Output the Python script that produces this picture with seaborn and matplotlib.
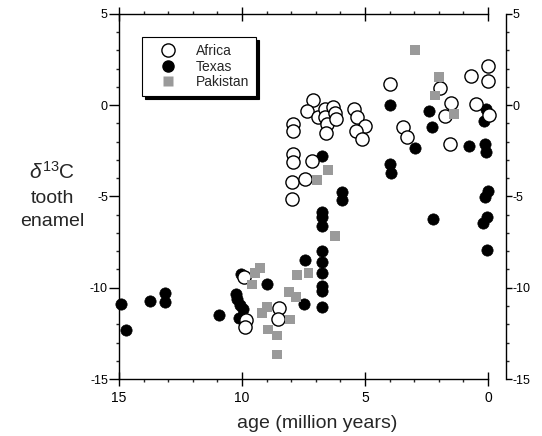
import matplotlib
matplotlib.use("Agg")
import matplotlib.pyplot as plt
import seaborn as sns
import pandas as pd
from matplotlib.ticker import MultipleLocator
from matplotlib.lines import Line2D

# ---- data (age in Ma, delta13C) ----
africa_age = [7.92, 7.92, 7.92, 7.92, 7.95, 7.95, 7.44, 7.17,
              7.12, 7.35, 6.90, 6.63, 6.63, 6.56, 6.59, 6.29, 6.22, 6.18,
              5.45, 5.34, 5.00, 5.37, 5.13,
              3.98, 3.45, 3.28, 1.54, 1.52, 1.76, 1.95, 0.71, 0.00, 0.00, 0.47, -0.05,
              9.93, 9.85, 9.88, 8.50, 8.52]
africa_d13c = [-1.03, -1.39, -2.67, -3.13, -4.23, -5.15, -4.05, -3.04,
               0.27, -0.29, -0.66, -0.20, -0.66, -1.03, -1.51, -0.11, -0.40, -0.75,
               -0.20, -0.66, -1.15, -1.39, -1.85,
               1.14, -1.21, -1.74, -2.12, 0.13, -0.60, 0.95, 1.63, 2.13, 1.33, 0.09, -0.53,
               -9.40, -11.74, -12.17, -11.10, -11.70]

texas_age = [14.90, 14.72, 13.74, 13.13, 13.13, 10.92, 10.25, 10.21, 10.08, 9.95, 10.11, 10.05,
             8.97, 7.44, 7.48,
             6.74, 6.74, 6.74, 6.74, 6.74, 6.74, 6.74, 6.74, 6.74,
             5.95, 5.95, 2.25, 0.00, 0.12, 0.05, 0.22, 0.05,
             6.76, 3.98, 3.98, 3.96, 2.97, 2.39, 2.29, 0.76, 0.12, 0.08, 0.08, 0.16]
texas_d13c = [-10.90, -12.30, -10.75, -10.27, -10.77, -11.47, -10.33, -10.64, -10.92, -11.15, -11.65, -9.27,
              -9.82, -8.48, -10.87,
              -5.86, -6.10, -6.61, -8.01, -8.58, -9.20, -9.91, -10.18, -11.04,
              -4.78, -5.18, -6.21, -4.69, -5.05, -6.15, -6.43, -7.93,
              -2.80, 0.02, -3.22, -3.72, -2.35, -0.29, -1.21, -2.21, -2.12, -2.58, -0.20, -0.84]

pakistan_age = [9.27, 9.47, 9.61, 9.20, 9.00, 8.93, 8.57, 8.57, 8.05, 8.08, 7.80, 7.77, 7.30,
                6.22, 6.49, 6.96, 2.97, 1.98, 2.15, 1.37]
pakistan_d13c = [-8.90, -9.18, -9.82, -11.37, -11.04, -12.29, -12.62, -13.66, -11.74, -10.24, -10.51,
                 -9.30, -9.20, -7.16, -3.53, -4.10, 3.04, 1.54, 0.53, -0.48]

regions = ["Africa", "Texas", "Pakistan"]
x_ticks = [15, 10, 5, 0]
y_ticks = [5, 0, -5, -10, -15]

df = pd.concat([
    pd.DataFrame({"age": africa_age, "d13c": africa_d13c, "region": "Africa"}),
    pd.DataFrame({"age": texas_age, "d13c": texas_d13c, "region": "Texas"}),
    pd.DataFrame({"age": pakistan_age, "d13c": pakistan_d13c, "region": "Pakistan"}),
], ignore_index=True)

sns.set_style("ticks")
plt.rcParams["font.family"] = ["Liberation Sans", "DejaVu Sans"]
plt.rcParams["mathtext.fontset"] = "custom"
plt.rcParams["mathtext.rm"] = "Liberation Sans"
plt.rcParams["mathtext.it"] = "Liberation Sans:italic"

fig = plt.figure(figsize=(5.42, 4.36), dpi=100)
W, H = 542, 436
L, R, T, B = 119, 488, 14, 379
ax = fig.add_axes([L / W, 1 - B / H, (R - L) / W, (B - T) / H])

sns.scatterplot(data=df[df.region == "Texas"], x="age", y="d13c", ax=ax,
                marker="o", s=66, color="black", edgecolor="black", linewidth=0.5,
                clip_on=False, zorder=3, legend=False)
sns.scatterplot(data=df[df.region == "Africa"], x="age", y="d13c", ax=ax,
                marker="o", s=90, facecolor="white", edgecolor="black", linewidth=1.0,
                clip_on=False, zorder=4, legend=False)
sns.scatterplot(data=df[df.region == "Pakistan"], x="age", y="d13c", ax=ax,
                marker="s", s=50, color="#9a9a9a", edgecolor="none", linewidth=0,
                clip_on=False, zorder=5, legend=False)

ax.set_xlim(15, 0)
ax.set_ylim(-15, 5)
ax.set_xlabel("")
ax.set_ylabel("")

for side in ["left", "top", "bottom"]:
    ax.spines[side].set_visible(True)
    ax.spines[side].set_linewidth(1.0)
    ax.spines[side].set_color("black")
ax.spines["right"].set_visible(False)

ax.set_xticks(x_ticks)
ax.set_xticklabels([str(v) for v in x_ticks])
ax.xaxis.set_minor_locator(MultipleLocator(1))
ax.set_yticks(y_ticks)
ax.set_yticklabels([str(v) for v in y_ticks])
ax.yaxis.set_minor_locator(MultipleLocator(1))

ax.tick_params(axis="x", which="major", direction="inout", length=10, width=1,
               top=True, bottom=True, labeltop=False, labelsize=10, pad=4, colors="black")
ax.tick_params(axis="x", which="minor", direction="out", length=2.5, width=1,
               top=True, bottom=True)
ax.tick_params(axis="y", which="major", direction="out", length=7, width=1,
               left=True, right=False, labelsize=9, pad=1, colors="black")
ax.tick_params(axis="y", which="minor", direction="out", length=2, width=1,
               left=True, right=False)

ax2 = ax.twinx()
ax2.set_ylim(-15, 5)
for side in ["left", "top", "bottom"]:
    ax2.spines[side].set_visible(False)
ax2.spines["right"].set_position(("axes", (506 - L) / (R - L)))
ax2.spines["right"].set_linewidth(1.0)
ax2.spines["right"].set_color("black")
ax2.set_yticks(y_ticks)
ax2.set_yticklabels([str(v) for v in y_ticks])
ax2.yaxis.set_minor_locator(MultipleLocator(1))
ax2.tick_params(axis="y", which="major", direction="out", length=4, width=1,
                labelsize=9, pad=0.5, colors="black")
ax2.tick_params(axis="y", which="minor", direction="out", length=2.5, width=1)

handles = [
    Line2D([], [], marker="o", linestyle="none", markersize=9.5, markerfacecolor="white",
           markeredgecolor="black", markeredgewidth=1.0),
    Line2D([], [], marker="o", linestyle="none", markersize=8, markerfacecolor="black",
           markeredgecolor="black"),
    Line2D([], [], marker="s", linestyle="none", markersize=7, markerfacecolor="#9a9a9a",
           markeredgecolor="none"),
]
leg = ax.legend(handles, regions, loc="upper left",
                bbox_to_anchor=((142 - L) / (R - L), 1 - (37 - T) / (B - T)),
                frameon=True, fancybox=False, shadow={"color": "black", "alpha": 1},
                fontsize=10, labelspacing=0.12, handletextpad=0.7, borderpad=0.5,
                borderaxespad=0, handlelength=2.7, framealpha=1)
leg.get_frame().set_edgecolor("black")
leg.get_frame().set_linewidth(0.8)

fig.text(52 / W, 1 - 172 / H, r"$\delta^{13}$C", ha="center", va="center", fontsize=15)
fig.text(52 / W, 1 - 198 / H, "tooth", ha="center", va="center", fontsize=14)
fig.text(52 / W, 1 - 222 / H, "enamel", ha="center", va="center", fontsize=14)
fig.text(317 / W, 1 - 423 / H, "age (million years)", ha="center", va="center", fontsize=14)

fig.savefig("out.png", dpi=100)
